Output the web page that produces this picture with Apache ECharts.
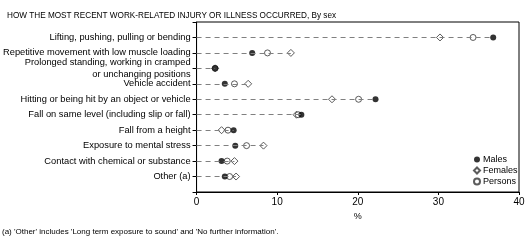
<!DOCTYPE html>
<html>
<head>
<meta charset="utf-8">
<script src="https://cdn.jsdelivr.net/npm/echarts@6/dist/echarts.min.js"></script>
<style>
html,body{margin:0;padding:0;background:#fff;}
#chart{width:529px;height:246px;}
</style>
</head>
<body>
<div id="chart"></div>
<script>
var categories=[
    'Lifting, pushing, pulling or bending',
    'Repetitive movement with low muscle loading',
    'Prolonged standing, working in cramped\nor unchanging positions',
    'Vehicle accident',
    'Hitting or being hit by an object or vehicle',
    'Fall on same level (including slip or fall)',
    'Fall from a height',
    'Exposure to mental stress',
    'Contact with chemical or substance',
    'Other (a)'
];
var males=[36.8, 6.9, 2.3, 3.5, 22.2, 13.0, 4.6, 4.8, 3.1, 3.5];
var females=[30.2, 11.7, 2.3, 6.4, 16.8, 12.4, 3.1, 8.3, 4.7, 4.9];
var persons=[34.3, 8.8, 2.3, 4.7, 20.1, 12.6, 3.9, 6.2, 3.8, 4.1];
var xTicks=[0,10,20,30,40];

var FONT='Liberation Sans, Arial, sans-serif';
// blank slots top and bottom so the rows sit inside the frame
var axisCats=[''].concat(categories).concat([' ']);

function pairs(arr){
    return arr.map(function(v,i){ return [v,categories[i]]; });
}

// dashed guide from 0 to the largest value in each row
var guides=categories.map(function(c,i){
    var m=Math.max(males[i],females[i],persons[i]);
    return [{coord:[0,c]},{coord:[m,c]}];
});

var myChart=echarts.init(document.getElementById('chart'));
var option={
    backgroundColor:'#fff',
    animation:false,
    textStyle:{fontFamily:FONT},
    title:{
        text:'HOW THE MOST RECENT WORK-RELATED INJURY OR ILLNESS OCCURRED, By sex',
        left:2, top:7,
        textStyle:{fontSize:8.2, fontWeight:'normal', color:'#000', fontFamily:FONT}
    },
    grid:{
        left:194, right:10, top:22, bottom:54,
        show:true, borderColor:'#000', borderWidth:1
    },
    legend:{
        orient:'vertical',
        left:468, top:149,
        itemWidth:6, itemHeight:6, itemGap:0,
        textStyle:{fontSize:9, color:'#000', fontFamily:FONT, lineHeight:11, padding:[0,0,0,-2]},
        data:['Males','Females','Persons']
    },
    xAxis:{
        type:'value',
        min:xTicks[0], max:xTicks[xTicks.length-1], interval:10,
        name:'%', nameLocation:'middle', nameGap:20,
        nameTextStyle:{fontSize:9, color:'#000'},
        axisLine:{show:true, lineStyle:{color:'#000'}},
        axisTick:{show:true, length:3, lineStyle:{color:'#000'}},
        axisLabel:{fontSize:10, color:'#000', margin:5},
        splitLine:{show:false}
    },
    yAxis:{
        type:'category',
        inverse:true,
        boundaryGap:false,
        data:axisCats,
        axisLine:{show:true, lineStyle:{color:'#000'}},
        axisTick:{show:true, length:4, lineStyle:{color:'#000'}},
        axisLabel:{fontSize:9.3, color:'#000', margin:6, lineHeight:12, align:'right'},
        splitLine:{show:false}
    },
    series:[
        {
            name:'Guides',
            type:'scatter',
            data:[],
            silent:true,
            markLine:{
                silent:true,
                symbol:['none','none'],
                label:{show:false},
                lineStyle:{color:'#808080', type:[5,4], width:1},
                data:guides
            }
        },
        {
            name:'Females',
            type:'scatter',
            symbol:'diamond',
            symbolSize:7,
            itemStyle:{color:'#fff', borderColor:'#333', borderWidth:1},
            data:pairs(females)
        },
        {
            name:'Persons',
            type:'scatter',
            symbol:'circle',
            symbolSize:6,
            itemStyle:{color:'#fff', borderColor:'#333', borderWidth:1},
            data:pairs(persons)
        },
        {
            name:'Males',
            type:'scatter',
            symbol:'circle',
            symbolSize:6,
            itemStyle:{color:'#000'},
            data:pairs(males)
        }
    ],
    graphic:[{
        type:'text',
        left:2, top:228,
        style:{
            text:"(a) 'Other' includes 'Long term exposure to sound' and 'No further information'.",
            fontSize:8, fill:'#000', fontFamily:FONT
        }
    }]
};
myChart.setOption(option);
</script>
</body>
</html>
